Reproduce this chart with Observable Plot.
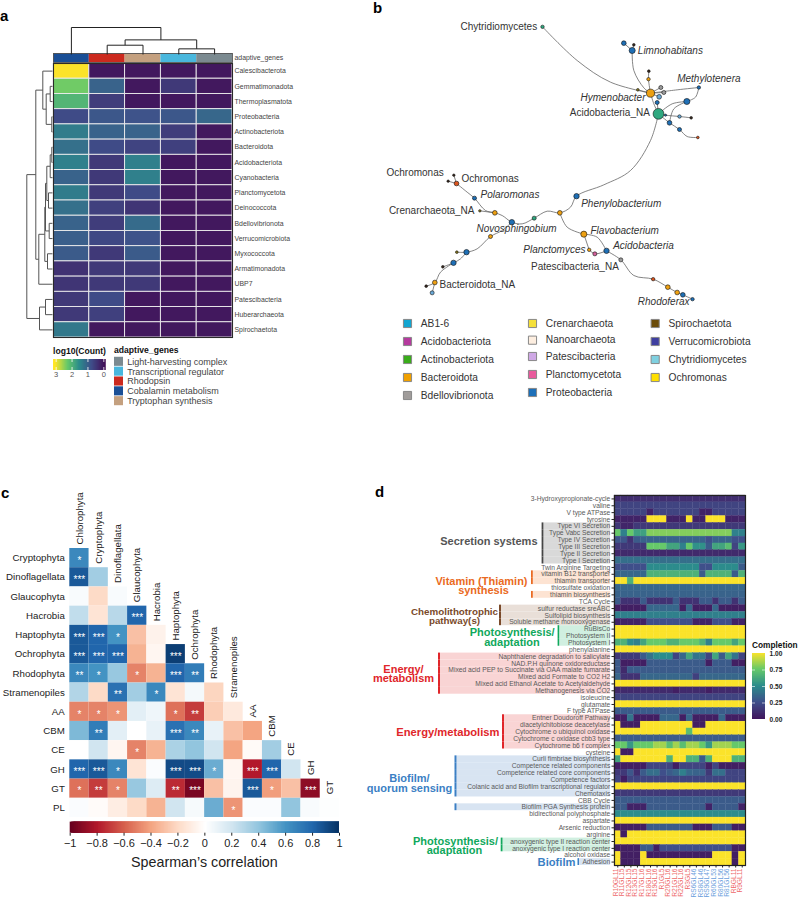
<!DOCTYPE html>
<html><head><meta charset="utf-8">
<script src="https://cdn.jsdelivr.net/npm/d3@7"></script>
<script src="https://cdn.jsdelivr.net/npm/@observablehq/plot@0.6"></script>
<style>
html,body{margin:0;padding:0;background:#fff}
#page{position:relative;width:798px;height:898px;overflow:hidden;font-family:"Liberation Sans",Arial,sans-serif}
#page svg{position:absolute;background:transparent;overflow:visible}
.t{position:absolute;white-space:nowrap;line-height:1;transform:translateY(-50%)}
</style></head><body><div id="page"></div>
<script>
const FONT = '"Liberation Sans",Arial,sans-serif';

// ---------- panel a ----------
const genes = ["Cobalamin metabolism","Rhodopsin","Tryptophan synthesis","Transcriptional regulator","Light-harvesting complex"];
const geneColors = ["#1a4f96","#cc2a1e","#c4a07f","#49b7dd","#7b8a90"];
const geneLegendOrder = ["Light-harvesting complex","Transcriptional regulator","Rhodopsin","Cobalamin metabolism","Tryptophan synthesis"];
const phylaA = ["Calescibacterota","Gemmatimonadota","Thermoplasmatota","Proteobacteria","Actinobacteriota","Bacteroidota","Acidobacteriota","Cyanobacteria","Planctomycetota","Deinococcota","Bdellovibrionota","Verrucomicrobiota","Myxococcota","Armatimonadota","UBP7","Patescibacteria","Huberarchaeota","Spirochaetota"];
const logCount = [
 [3,0,0,0,0],[2.3,1,0,.45,0],[2,.5,0,0,0],[.7,.85,.8,.85,1.05],[1.3,1,1,.5,0],[1.15,.7,.6,.55,0],
 [1.35,.45,1.35,0,0],[1,.45,1.35,0,0],[1.3,.45,.7,0,0],[1.15,.55,.4,0,0],[1,.5,1.1,0,0],[.95,.65,.8,0,0],
 [.9,.45,.9,0,0],[.35,.45,.45,0,0],[.4,.45,.45,0,0],[.45,.7,0,0,0],[.45,.55,0,0,0],[1.25,0,0,0,0]];
// merges: [height, a, b, heightA, heightB]
const topMerges = [[8.7,1,2,0,0],[5.3,3,4,0,0],[13.7,1.5,3.5,8.7,5.3],[25.3,0,2.5,0,13.7]];
const leftMerges = [[7,1,2,0,0],[13,0,1.5,0,7],[5,4,5,0,0],[3.3,6,7,0,0],[4,8,9,0,0],[.7,11,12,0,0],[2.3,10,11.5,0,.7],
 [5.7,8.5,10.75,4,2.3],[7,6.5,9.625,3.3,5.7],[7.7,4.5,8.06,5,7],[13.7,3,6.28,0,7.7],[.7,13,14,0,0],[2.3,15,16,0,0],
 [6.3,13.5,15.5,.7,2.3],[9.7,14.5,17,6.3,0],[16.7,4.64,15.75,13.7,9.7],[25.7,.75,10.2,13,16.7]];
const viridisStops = ["#42185e","#3f4f8a","#2c8c8c","#66c96a","#fbe32a"];

// ---------- panel b ----------
const nodeGroups = ["Proteobacteria","Bacteroidota","Teal","Rust","Dark","Olive","Gray","Sky","Pink"];
const nodeColors = ["#1f6fb5","#eda012","#2fa87f","#d9541e","#3a2a20","#8a7a20","#9a9a9a","#6aaad8","#d4609a"];
const nodes = [
 [516,79,10,"Teal"],[785,150,32,"Proteobacteria"],[760,128,19,"Proteobacteria"],[790,133,6,"Dark"],[835,212,6,"Dark"],[834,236,10,"Bacteroidota"],
 [840,278,56,"Bacteroidota"],[802,268,6,"Olive"],[871,261,14,"Gray"],[880,276,14,"Gray"],[866,289,19,"Sky"],[860,306,14,"Proteobacteria"],
 [864,340,100,"Teal"],[949,303,32,"Proteobacteria"],[985,261,10,"Proteobacteria"],[885,344,4,"Proteobacteria"],[927,348,10,"Sky"],[962,352,6,"Dark"],
 [897,367,19,"Proteobacteria"],[927,387,14,"Proteobacteria"],[982,411,6,"Rust"],
 [618,587,25,"Proteobacteria"],[568,637,19,"Bacteroidota"],[491,653,14,"Teal"],[424,665,25,"Proteobacteria"],[373,637,19,"Bacteroidota"],[328,631,5,"Olive"],
 [312,593,14,"Proteobacteria"],[258,549,19,"Rust"],[250,524,5,"Dark"],[233,542,5,"Dark"],
 [360,708,14,"Bacteroidota"],[288,755,25,"Proteobacteria"],[259,755,6,"Olive"],[249,787,25,"Proteobacteria"],[217,799,6,"Dark"],[193,846,19,"Bacteroidota"],[167,857,6,"Dark"],[185,877,14,"Sky"],
 [640,701,32,"Bacteroidota"],[656,748,10,"Bacteroidota"],[673,760,14,"Pink"],[708,751,25,"Proteobacteria"],[751,778,14,"Gray"],[848,836,10,"Rust"],
 [892,860,19,"Bacteroidota"],[920,876,19,"Bacteroidota"],[937,883,19,"Proteobacteria"],[966,896,10,"Proteobacteria"]];
const edges = [
 [[516,79],[620,180],[720,245],[840,278]],[[785,150],[790,210],[820,262],[840,278]],[[760,128],[785,150]],[[790,133],[785,150]],
 [[835,212],[834,236],[840,278]],[[802,268],[840,278]],[[840,278],[871,261]],[[840,278],[920,268],[985,261]],[[840,278],[880,276]],
 [[840,278],[866,289]],[[840,278],[850,310],[864,340]],[[860,306],[864,340]],[[864,340],[905,310],[949,303]],[[985,261],[975,290],[949,303]],
 [[949,303],[910,325],[897,367]],[[864,340],[885,344],[927,348],[962,352]],[[864,340],[897,367],[927,387],[950,408],[982,411]],
 [[864,340],[840,420],[780,510],[700,553],[618,587],[600,620],[568,637],[530,632],[491,653],[455,670],[424,665],[395,645],[373,637],[345,630],[312,593],[290,575],[258,549]],
 [[250,524],[258,549]],[[233,542],[258,549]],[[328,631],[373,637]],
 [[424,665],[395,690],[360,708],[320,745],[288,755],[259,755]],[[288,755],[270,775],[249,787],[217,799]],[[249,787],[210,815],[193,846],[167,857]],[[193,846],[185,877]],
 [[568,637],[590,680],[640,701]],[[640,701],[656,748]],[[640,701],[680,710],[708,751]],[[656,748],[673,760],[708,751]],
 [[708,751],[751,778],[790,825],[848,836],[892,860],[920,876],[937,883],[966,896]]];
const taxaLabels = [
 ["Chytridiomycetes",500,80,"end",0],["Limnohabitans",802,150,"start",1],["Methylotenera",920,235,"start",1],["Hymenobacter",825,291,"end",1],
 ["Acidobacteria_NA",838,338,"end",0],["Ochromonas",48,518,"start",0],["Ochromonas",273,535,"start",0],["Polaromonas",330,582,"start",1],
 ["Crenarchaeota_NA",312,630,"end",0],["Phenylobacterium",632,611,"start",1],["Novosphingobium",318,686,"start",1],["Flavobacterium",660,691,"start",1],
 ["Acidobacteria",728,737,"start",1],["Planctomyces",645,748,"end",1],["Patescibacteria_NA",745,800,"end",0],["Bacteroidota_NA",207,853,"start",0],["Rhodoferax",802,904,"start",1]];
const legendPhyla = [
 ["AB1-6","#12a5d0",111,969],["Acidobacteriota","#b53a9e",111,1023],["Actinobacteriota","#3aac1a",111,1077],["Bacteroidota","#f0a000",111,1131],["Bdellovibrionota","#a09c9a",111,1185],
 ["Crenarchaeota","#f5e03a",486,969],["Nanoarchaeota","#fdeee0",486,1019],["Patescibacteria","#cfa8e5",486,1068],["Planctomycetota","#e85a9c",486,1122],["Proteobacteria","#1d6fb8",486,1176],
 ["Spirochaetota","#6b4c0a",854,969],["Verrucomicrobiota","#3f3fa0",854,1023],["Chytridiomycetes","#7fd0e0",854,1077],["Ochromonas","#ffe000",854,1131]];

// ---------- panel c ----------
const corrRows = ["Cryptophyta","Dinoflagellata","Glaucophyta","Hacrobia","Haptophyta","Ochrophyta","Rhodophyta","Stramenopiles","AA","CBM","CE","GH","GT","PL"];
const corrCols = ["Chlorophyta","Cryptophyta","Dinoflagellata","Glaucophyta","Hacrobia","Haptophyta","Ochrophyta","Rhodophyta","Stramenopiles","AA","CBM","CE","GH","GT"];
const corrValues = [
 [.65],[.85,.35],[.03,-.2,.03],[.25,-.15,.28,.8],[.85,.8,.6,-.3,-.07],[.85,.8,.8,-.35,-.05,.95],[.65,.6,.38,-.5,-.35,.8,.7],
 [.3,-.2,.75,.35,.65,-.15,.05,-.22],[-.5,-.5,-.45,.12,.07,-.55,-.7,-.25,-.12],[.45,.7,.12,0,.1,.75,.65,.1,-.3,-.4],
 [0,.2,-.05,-.5,-.35,.32,.4,.2,-.4,-.03,.35],[.8,.85,.65,-.15,.02,.9,.9,.5,-.05,-.8,.8,.2],
 [-.55,-.7,-.5,.38,.15,-.75,-.95,-.3,-.06,.85,-.42,-.3,-.9],[.02,-.02,-.1,-.2,-.35,.2,.04,.5,-.45,.02,.02,.4,.03,.01]];
const corrStars = [
 ["*"],["***",""],["","",""],["","","","***"],["***","***","*","",""],["***","***","***","","","***"],["**","*","","*","","***","**"],
 ["","","**","","*","","",""],["*","*","*","","","*","**","",""],["","**","","","","***","**","","",""],
 ["","","","*","","","","","","",""],["***","***","*","","","***","***","*","","***","***",""],
 ["*","**","*","","","**","***","","","***","*","","***"],["","","","","","","","","*","","","","",""]];
const corrDomain = [-1,-.8,-.6,-.4,-.2,0,.2,.4,.6,.8,1];
const corrRange = ["#67001f","#b2182b","#d6604d","#f4a582","#fddbc7","#ffffff","#d1e5f0","#92c5de","#4393c3","#2166ac","#053061"];

// ---------- panel d ----------
const samples = ["R10GL11","R11GL15","R12GL15","R13GL15","R17GL16","R18GL16","R19GL16","R1GL5","R20GL16","R21GL16","R22GL16","R3GL5","RS6GL46","RS8GL46","RS9GL47","R60GL53","R80GL56","R81GL56","RBGL11","R9GL11"];
const blueSamples = ["RS6GL46","RS8GL46","RS9GL47","R60GL53","R80GL56","R81GL56"];
const pathways = ["3-Hydroxypropionate-cycle","valine","V type ATPase","tyrosine","Type VI Secretion","Type Vabc Secretion","Type IV Secretion","Type III Secretion","Type II Secretion","Type I Secretion","Twin Arginine Targeting","vitamin B12 transporter","thiamin transporter","thiosulfate oxidation","thiamin biosynthesis","TCA Cycle","sulfur reductase sreABC","Sulfolipid biosynthesis","Soluble methane monooxygenase","RuBisCo","Photosystem II","Photosystem I","phenylalanine","Naphthalene degradation to salicylate","NAD.P.H quinone oxidoreductase","Mixed acid PEP to Succinate via OAA malate fumarate","Mixed acid Formate to CO2 H2","Mixed acid Ethanol Acetate to Acetylaldehyde","Methanogenesis via CO2","isoleucine","glutamate","F type ATPase","Entner Doudoroff Pathway","diacetylchitobiose deacetylase","Cytochrome o ubiquinol oxidase","Cytochrome c oxidase cbb3 type","Cytochrome b6 f complex","cysteine","Curli fimbriae biosynthesis","Competence related components","Competence related core components","Competence factors","Colanic acid and Biofilm transcriptional regulator","Chemotaxis","CBB Cycle","Biofilm PGA Synthesis protein","bidirectional polyphosphate","aspartate","Arsenic reduction","arginine","anoxygenic type II reaction center","anoxygenic type I reaction center","alcohol oxidase","Adhesion"];
const completion = [
 [.1,.1,.1,.1,.1,.1,.1,.1,.1,.1,.1,.1,.1,.1,.1,.1,.1,.1,.1,.1],
 [.2,.2,.2,.2,.2,.2,.2,.2,.2,.2,.2,.2,.2,.2,.2,.2,.2,.2,.2,.2],
 [.2,.2,.2,.2,.2,.05,.2,.2,.2,.2,.2,.2,.2,.05,.05,.2,.2,.2,.2,.2],
 [.05,.05,.05,.05,.05,1,1,1,.05,.05,.05,1,.05,.05,1,1,1,.05,.05,.05],
 [.15,.06,.06,.15,.15,.15,.15,.15,.15,.15,.15,.15,.15,.15,.15,.15,.15,.15,.15,.15],
 [.75,.45,.75,.58,.58,.8,.8,.8,.8,.8,.8,.8,.8,.8,.8,.8,.8,.8,.45,.45],
 [.28,.28,.12,.3,.33,.33,.33,.33,.33,.33,.33,.33,.33,.33,.25,.33,.33,.33,.25,.25],
 [.15,.15,.15,.15,.15,.75,.75,.75,.6,.6,.45,.75,.52,.52,.3,.6,.6,.7,.2,.55],
 [.08,.08,.08,.08,.08,.08,.08,.08,.08,.08,.08,.08,.08,.08,.08,.08,.08,.08,.08,.08],
 [.38,.38,.38,.38,.38,.38,.38,.38,.38,.38,.38,.38,.38,.38,.38,.38,.38,.38,.38,.38],
 [.25,.25,.25,.25,.25,.5,.5,.5,.5,.5,.5,.5,.5,.25,.25,.5,.5,.5,.5,.3],
 [.35,.35,.35,.35,.35,.65,.65,.65,.65,.65,.65,.65,.65,.3,.65,.65,.65,.65,.3,.65],
 [1,1,.65,1,1,1,1,1,1,1,1,1,1,1,1,1,1,1,1,1],
 [.35,.35,.35,.35,.35,.35,.35,.35,.35,.35,.35,.35,.35,.35,.35,.35,.35,.35,.35,.35],
 [.33,.33,.33,.33,.33,.33,.33,.33,.33,.33,.33,.33,.33,.33,.33,.33,.33,.33,.33,.33],
 [.3,.12,.12,.12,.3,.12,.12,.12,.12,.3,.12,.12,.12,.3,.3,.12,.3,.3,.12,.3],
 [.03,.03,.03,.03,.03,.35,.35,.35,.35,.35,.03,.35,.03,.03,.03,.35,.03,.03,.03,.03],
 [.45,.45,.45,.45,.45,.45,.45,.45,.45,.45,.45,.45,.45,.45,.45,.45,.45,.45,.45,.45],
 [.05,.05,.05,.05,.05,.25,.25,.25,.25,.25,.25,.25,.05,.05,.05,.25,.25,.25,.05,.05],
 [1,1,1,1,1,1,1,1,1,1,1,1,1,1,1,1,1,1,1,1],
 [1,1,1,1,1,1,1,1,1,1,1,1,1,1,1,1,1,1,1,1],
 [.65,.65,.5,.45,.6,.75,.75,.75,.65,.65,.75,.75,.75,.65,.45,.75,.75,.75,.6,.75],
 [1,1,1,1,1,1,1,1,1,1,1,1,1,1,1,1,1,1,1,1],
 [.15,.15,.15,.15,.3,.4,.5,.5,.5,.2,.35,.6,.4,.4,.2,.6,.3,.6,.4,.2],
 [.3,.03,.03,.03,.03,.3,.3,.3,.3,.3,.3,.3,.3,.3,.03,.3,.3,.3,.03,.03],
 [.3,.08,.3,.3,.3,.3,.3,.3,.3,.3,.3,.3,.3,.3,.3,.3,.3,.3,.3,.3],
 [.35,.12,.12,.12,.35,.35,.35,.35,.35,.35,.35,.35,.18,.35,.35,.35,.35,.35,.35,.35],
 [1,1,1,1,1,1,1,1,1,1,1,1,1,1,1,1,1,1,1,1],
 [.08,.08,.08,.08,.08,.08,.08,.08,.08,.03,.08,.08,.08,.08,.03,.08,.08,.08,.08,.08],
 [.2,.2,.2,.2,.2,.2,.2,.2,.2,.2,.2,.2,.2,.2,.2,.2,.2,.2,.2,.2],
 [1,1,1,1,1,1,1,1,1,1,1,1,1,1,1,1,1,1,1,1],
 [.3,.3,.3,.3,.3,.3,.3,.3,.3,.3,.3,.3,.3,.3,.3,.3,.3,.3,.3,.3],
 [.03,.03,.4,.03,.03,.03,.03,.35,.35,.35,.03,.35,.03,.03,.03,.03,.35,.03,.03,.03],
 [1,.03,.03,.03,1,1,1,1,1,1,1,1,.03,.03,1,1,1,1,1,1],
 [1,1,1,1,1,1,1,1,1,1,1,.7,1,1,1,1,1,1,1,1],
 [.3,.3,.3,.3,.3,.3,.3,.3,.3,.3,.3,.3,.3,.3,.3,.3,.3,.3,.3,.3],
 [.75,.75,.55,.75,.75,.75,.85,.85,.7,.85,.7,.85,.85,.75,.55,.85,.85,.85,.75,.75],
 [1,.03,.03,1,1,1,1,1,1,1,1,1,1,1,1,1,1,1,1,1],
 [.6,1,1,1,1,1,1,1,.65,1,1,.65,.65,.3,.65,1,1,1,.65,.65],
 [.03,.03,.03,.03,.03,.2,.2,.2,.2,.03,.2,.2,.2,.2,.03,.2,.03,.03,.03,.03],
 [.15,.15,.28,.1,.3,.38,.38,.25,.3,.35,.45,.35,.33,.33,.15,.38,.38,.2,.2,.2],
 [.2,.03,.2,.2,.2,.2,.2,.2,.2,.2,.2,.2,.2,.2,.2,.2,.2,.2,.2,.2],
 [1,1,1,1,1,1,1,1,1,1,1,1,1,1,1,1,1,1,1,1],
 [.15,.15,.15,.15,.15,.15,.15,.15,.15,.15,.15,.15,.15,.15,.15,.15,.15,.15,.15,.15],
 [.3,.3,.3,.3,.3,.3,.3,.3,.3,.3,.3,.3,.3,.3,.3,.3,.3,.3,.3,.3],
 [.3,.3,.05,.05,.05,.3,.3,.3,.3,.3,.3,.3,.3,.3,.05,.3,.3,.3,.3,.05],
 [.5,.5,.5,.5,.5,.5,.5,.5,.5,.5,.5,.5,.5,.5,.5,.5,.5,.5,.5,.5],
 [1,1,1,1,1,1,1,1,1,1,1,1,1,1,1,1,1,1,1,1],
 [.03,.03,.03,.03,.03,.3,.3,.3,.3,.3,.3,.3,.03,.03,.03,.3,.3,.3,.03,.03],
 [1,.03,1,1,1,1,1,1,1,1,1,1,1,1,1,1,1,1,1,1],
 [1,1,1,1,1,1,1,1,1,1,1,1,1,1,1,1,1,1,1,1],
 [.03,.03,.03,.03,.3,.3,.03,.25,.25,.25,.25,.25,.25,.25,.25,.25,.25,.25,.03,.03],
 [1,.03,.03,.03,1,.03,.03,.03,.03,.03,.03,.03,.03,.03,.03,1,1,1,.03,1],
 [1,.03,.03,.03,1,1,1,1,1,1,1,1,1,1,1,1,1,1,.03,1]];
const pathwayGroups = [
 {first:4,last:9,bar:[541.6,543.4],bg:"#d9d9d9",color:"#454545"},
 {first:11,last:12,bar:[531,532.8],bg:"#fde3d2",color:"#ea6a22"},
 {first:14,last:14,bar:[531,532.8],bg:"#fde3d2",color:"#ea6a22"},
 {first:16,last:18,bar:[499,501],bg:"#e9dfd8",color:"#7a4a2a"},
 {first:19,last:21,bar:[557.6,559.2],bg:"#d0efe0",color:"#10a85c"},
 {first:23,last:28,bar:[438,440],bg:"#f9d4d4",color:"#e0262a"},
 {first:32,last:36,bar:[502,504],bg:"#f9d4d4",color:"#e0262a"},
 {first:38,last:43,bar:[454.5,456.5],bg:"#d8e4f2",color:"#3b7fc4"},
 {first:45,last:45,bar:[454.5,456.5],bg:"#d8e4f2",color:"#3b7fc4"},
 {first:50,last:51,bar:[500.7,502.5],bg:"#d0efe0",color:"#10a85c"},
 {first:53,last:53,bar:[577.5,579],bg:"#d8e4f2",color:"#3b7fc4"}];
const groupTitles = [
 ["Secretion systems",537,6,1,"end","#555555",11],
 ["Vitamin (Thiamin)",481,12,0,"middle","#ea6a22",11],["synthesis",483,13,2.7,"middle","#ea6a22",11],
 ["Chemolithotrophic",454,16,3.3,"middle","#7a4a2a",9.8],["pathway(s)",454,18,-1,"middle","#7a4a2a",9.8],
 ["Photosynthesis/",511.7,19,3.7,"middle","#10a85c",11],["adaptation",511.5,21,0,"middle","#10a85c",11],
 ["Energy/",403,25,-1,"middle","#e0262a",11],["metabolism",403,26,1.5,"middle","#e0262a",11],
 ["Energy/metabolism",499,34,.7,"end","#e0262a",11.2],
 ["Biofilm/",409,41,-1,"middle","#3b7fc4",11],["quorum sensing",409,42,2,"middle","#3b7fc4",11],
 ["Photosynthesis/",455,50,0,"middle","#10a85c",11],["adaptation",454,51,2.5,"middle","#10a85c",11],
 ["Biofilm",575,53,0,"end","#3b7fc4",11.2]];

// ---------- helpers ----------
const page = document.getElementById("page");
function place(svg,left,top){ svg.style.left=left+"px"; svg.style.top=top+"px"; page.appendChild(svg); return svg; }
function label(text,left,y,size,weight,color,extra){
  const d=document.createElement("div"); d.className="t"; d.textContent=text;
  d.style.cssText=`left:${left}px;top:${y}px;font-size:${size}px;font-weight:${weight};color:${color};${extra||""}`;
  page.appendChild(d);
}
function segs(merges){ // turn merge records into the three strokes of each dendrogram bracket
  return merges.flatMap(([h,a,b,ha,hb])=>[{h1:h,p1:a,h2:h,p2:b},{h1:ha,p1:a,h2:h,p2:a},{h1:hb,p1:b,h2:h,p2:b}]);
}
const base = {style:{fontFamily:FONT,background:"transparent"}};
const band = (domain)=>({domain,padding:0,round:false,axis:null});
const stopsOver = (max)=>viridisStops.map((_,i)=>max*i/4);

// ---------- panel a drawing ----------
const colorA = {type:"linear",domain:stopsOver(3),range:viridisStops,interpolate:"rgb"};
const cellsA = phylaA.flatMap((p,i)=>genes.map((g,j)=>({p,g,v:logCount[i][j]})));
place(Plot.plot({...base,width:340,height:345,marginLeft:53,marginRight:108,marginTop:63,marginBottom:8,
  x:band(genes),y:band(phylaA),color:colorA,
  marks:[
   Plot.cell(cellsA,{x:"g",y:"p",fill:"v",stroke:"#eeeeee",strokeWidth:.9}),
   Plot.frame({stroke:"#2a2a2a",strokeWidth:1.1}),
   Plot.axisY({anchor:"right",tickSize:0,tickPadding:2,fontSize:6.9,color:"#444",label:null})
  ]}),0,0);
place(Plot.plot({...base,width:340,height:10,marginLeft:53,marginRight:108,marginTop:1,marginBottom:0,
  x:band(genes),y:{axis:null},color:{domain:genes,range:geneColors},
  marks:[
   Plot.barY(genes,{x:d=>d,y:()=>1,fill:d=>d}),
   Plot.frame({stroke:"#555",strokeWidth:.9}),
   Plot.text(["adaptive_genes"],{frameAnchor:"right",dx:2,textAnchor:"start",fontSize:6.9,fill:"#444"})
  ]}),0,52);
place(Plot.plot({...base,width:340,height:27,margin:0,marginLeft:53,marginRight:108,
  x:{domain:[-.5,4.5],axis:null},y:{domain:[0,25.3],axis:null},
  marks:[Plot.link(segs(topMerges),{x1:"p1",y1:"h1",x2:"p2",y2:"h2",stroke:"#222",strokeWidth:1})]}),0,26.5);
place(Plot.plot({...base,width:53,height:345,marginLeft:26.3,marginRight:1,marginTop:63,marginBottom:8,
  x:{domain:[25.7,0],axis:null},y:{domain:[-.5,17.5],axis:null},
  marks:[Plot.link(segs(leftMerges),{x1:"h1",y1:"p1",x2:"h2",y2:"p2",stroke:"#555",strokeWidth:1})]}),0,0);
label("log10(Count)",53,351,8.6,"bold","#111");
label("adaptive_genes",114,350,8.6,"bold","#111");
place(Plot.plot({...base,width:120,height:25,marginLeft:53.3,marginRight:14.3,marginTop:0,marginBottom:14,
  x:{domain:[3.15,-.15],axis:null},color:colorA,
  marks:[
   Plot.rect(d3.range(-.15,3.15,.03),{x1:d=>d,x2:d=>Math.min(3.15,d+.1),fill:d=>d}),
   Plot.ruleX([0,1,2,3],{stroke:"white",strokeWidth:.8,insetBottom:8}),
   Plot.ruleX([0,1,2,3],{stroke:"white",strokeWidth:.8,insetTop:8}),
   Plot.text([0,1,2,3],{x:d=>d,frameAnchor:"bottom",dy:6,fontSize:7.5,fill:"#555"})
  ]}),0,359);
place(Plot.plot({...base,width:240,height:50,margin:0,
  x:{domain:[114.3,354.3],axis:null},y:{domain:geneLegendOrder,padding:.08,round:false,axis:null},color:{domain:genes,range:geneColors},
  marks:[
   Plot.barX(geneLegendOrder,{x1:()=>114.3,x2:()=>123.3,y:d=>d,fill:d=>d}),
   Plot.text(geneLegendOrder,{x:()=>127,y:d=>d,text:d=>d,textAnchor:"start",fontSize:9,fill:"#444"})
  ]}),114.3,356);

// ---------- panel b drawing ----------
const nodeRecs = nodes.map(([x,y,size,group])=>({x,y,size,group}));
const edgeRecs = edges.flatMap((pts,i)=>pts.map(([x,y])=>({x,y,i})));
const taxaRecs = taxaLabels.map(([name,x,y,anchor,it])=>({name,x,y,anchor,it}));
const legRecs = legendPhyla.map(([name,color,x,y])=>({name,color,x,y}));
const taxaMarks = ["start","end"].flatMap(a=>[0,1].map(it=>Plot.text(taxaRecs.filter(d=>d.anchor===a&&d.it===it),
  {x:"x",y:"y",text:"name",textAnchor:a,fontSize:10,fontStyle:it?"italic":"normal",fill:"#333"})));
place(Plot.plot({...base,width:428,height:405,margin:0,
  x:{domain:[0,1284],axis:null},y:{domain:[0,1215],range:[0,405],axis:null},
  r:{domain:[0,100],range:[0,5.4]},
  color:{domain:nodeGroups,range:nodeColors},
  marks:[
   Plot.line(edgeRecs,{x:"x",y:"y",z:"i",curve:"catmull-rom",stroke:"#666",strokeWidth:.8}),
   Plot.dot(nodeRecs,{x:"x",y:"y",r:"size",fill:"group",stroke:"#111",strokeWidth:.6}),
   ...taxaMarks,
   Plot.dot(legRecs,{x:"x",y:"y",symbol:"square",r:4.6,fill:d=>d.color,stroke:"#888",strokeWidth:1}),
   Plot.text(legRecs,{x:"x",y:"y",text:"name",dx:13.3,textAnchor:"start",fontSize:10.2,fill:"#333"})
  ]}),370,0);

// ---------- panel c drawing ----------
const corrCells = corrRows.flatMap((r,i)=>corrValues[i].map((v,j)=>({r,c:corrCols[j],v,s:corrStars[i][j]})));
const corrColor = {type:"linear",domain:corrDomain,range:corrRange,interpolate:"rgb"};
place(Plot.plot({...base,width:370,height:340,marginLeft:69.3,marginRight:31,marginTop:68,marginBottom:3,
  x:band(corrCols),y:band(corrRows),color:corrColor,
  marks:[
   Plot.cell(corrCells,{x:"c",y:"r",fill:"v"}),
   Plot.text(corrCells.filter(d=>d.s),{x:"c",y:"r",text:"s",fill:"white",fontSize:10,dy:2.5}),
   Plot.text(corrCols,{x:d=>d,y:(d,i)=>corrRows[i],text:d=>d,rotate:-90,textAnchor:"start",dy:-13.6,fontSize:9.7,fill:"#222"}),
   Plot.axisY({anchor:"left",tickSize:0,tickPadding:5,fontSize:9.7,color:"#222",label:null})
  ]}),0,480);
place(Plot.plot({...base,width:370,height:40,marginLeft:69.7,marginRight:31,marginTop:6.6,marginBottom:22.3,
  x:{domain:[-1,1],axis:null},color:corrColor,
  marks:[
   Plot.rect(d3.range(-1,1,.01),{x1:d=>d,x2:d=>Math.min(1,d+.04),fill:d=>d}),
   Plot.axisX({ticks:corrDomain,tickSize:3,tickPadding:3,fontSize:11,color:"#222",label:null,tickFormat:d=>String(+d.toFixed(1)).replace("-","\u2212")})
  ]}),0,815);
label("Spearman\u2019s correlation",131,861.7,14.3,"normal","#222");

// ---------- panel d drawing ----------
const colorD = {type:"linear",domain:stopsOver(1),range:viridisStops,interpolate:"rgb"};
const cellsD = pathways.flatMap((p,i)=>samples.map((s,j)=>({p,s,v:completion[i][j]})));
const annRows = pathwayGroups.flatMap(g=>d3.range(g.first,g.last+1).map(i=>({row:pathways[i],...g})));
const titleMarks = groupTitles.map(([t,x,row,dy,anchor,color,size])=>
   Plot.text([{t,x,row:pathways[row]}],{x:"x",y:"row",text:"t",textAnchor:anchor,dy,fontSize:size,fontWeight:"bold",fill:color}));
place(Plot.plot({...base,width:243,height:380,margin:0,marginTop:5,marginBottom:5,
  x:{domain:[370,613],axis:null},y:band(pathways),
  marks:[
   Plot.barX(annRows,{x1:d=>d.bar[1],x2:()=>610,y:"row",fill:"bg"}),
   Plot.barX(annRows,{x1:d=>d.bar[0],x2:d=>d.bar[1],y:"row",fill:"color"}),
   Plot.text(pathways,{x:()=>609.8,y:d=>d,text:d=>d,textAnchor:"end",fontSize:6.7,fill:"#5a5a5a"}),
   ...titleMarks
  ]}),370,490);
place(Plot.plot({...base,width:188,height:408,marginLeft:4,marginRight:53,marginTop:5,marginBottom:33,
  x:band(samples),y:band(pathways),color:colorD,
  marks:[
   Plot.cell(cellsD,{x:"s",y:"p",fill:"v",stroke:"v",strokeWidth:.3}),
   Plot.frame({stroke:"#222",strokeWidth:1.2}),
   Plot.axisY({anchor:"left",tickSize:2.5,tickFormat:()=>"",label:null,color:"#222"}),
   Plot.axisX({anchor:"bottom",tickSize:2.5,tickFormat:()=>"",label:null,color:"#222"}),
   Plot.text(samples,{x:d=>d,frameAnchor:"bottom",rotate:-90,textAnchor:"end",dy:3,fontSize:6.6,text:d=>d,fill:d=>blueSamples.includes(d)?"#6a9edc":"#ee6a6a"})
  ]}),610,490);
label("Completion",752,644.7,8.3,"bold","#111");
place(Plot.plot({...base,width:48,height:72,marginLeft:2,marginRight:33,marginTop:3,marginBottom:3,
  x:{axis:null},y:{domain:[0,1],axis:null},color:colorD,
  marks:[
   Plot.rect(d3.range(0,1,.01),{y1:d=>d,y2:d=>Math.min(1,d+.04),fill:d=>d}),
   Plot.ruleY([.25,.5,.75],{stroke:"white",strokeWidth:.6,insetLeft:10}),
   Plot.ruleY([.25,.5,.75],{stroke:"white",strokeWidth:.6,insetRight:10}),
   Plot.axisY({anchor:"right",ticks:[0,.25,.5,.75,1],tickSize:0,tickPadding:4,tickFormat:".2f",fontSize:6.6,fontWeight:"bold",color:"#222",label:null})
  ]}),750,650);

// panel letters
label("a",0,15,15,"bold","#000");label("b",373,7,15,"bold","#000");label("c",1,492,15,"bold","#000");label("d",375,491,15,"bold","#000");
</script></body></html>
